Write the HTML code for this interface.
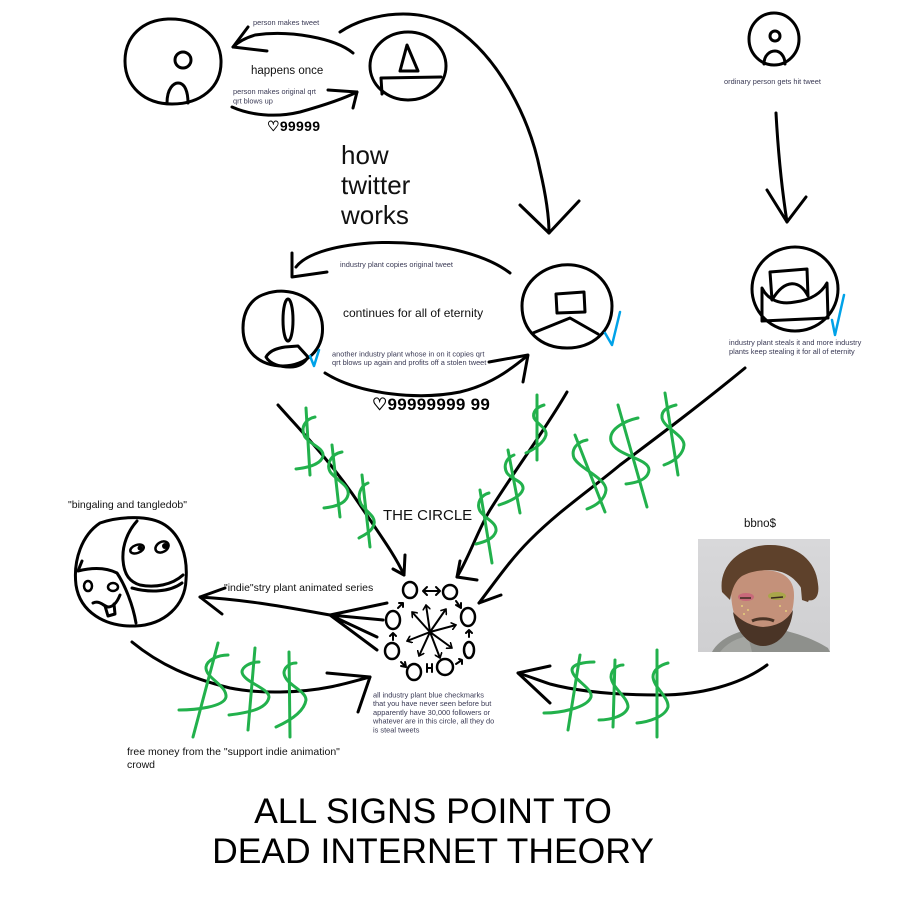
<!DOCTYPE html>
<html><head><meta charset="utf-8"><style>
html,body{margin:0;padding:0;background:#fff;}
svg{display:block;}
text{font-family:"Liberation Sans",Arial,sans-serif;}
.s{fill:#3a3a55;font-size:7.4px;}
</style></head><body>
<svg width="900" height="908" viewBox="0 0 900 908" xmlns="http://www.w3.org/2000/svg">
<defs>
<marker id="ah" markerWidth="6" markerHeight="8" refX="5" refY="4" orient="auto" markerUnits="userSpaceOnUse">
<path d="M0,0 L5,4 L0,8" fill="none" stroke="#000" stroke-width="1.6"/>
</marker>
<linearGradient id="bg" x1="0" y1="0" x2="0" y2="1"><stop offset="0" stop-color="#d8d8da"/><stop offset="1" stop-color="#cfcfd1"/></linearGradient>
</defs>
<rect width="900" height="908" fill="#fff"/>
<g fill="none" stroke="#000" stroke-width="3" stroke-linecap="round" stroke-linejoin="round">
<!-- top-left person -->
<path d="M168,19 C198,18 220,36 221,60 C222,88 200,104 172,104 C144,104 125,86 125,61 C125,36 143,20 168,19"/>
<circle cx="183" cy="60" r="8"/>
<path d="M167,103 C167,88 174,83 178,83 C185,83 188,92 188,103"/>
<!-- top-middle -->
<ellipse cx="408" cy="66" rx="38" ry="34"/>
<path d="M407,45 L400,71 L418,71 Z"/>
<path d="M382,94 L381,78 L441,77"/>
<!-- arrows top -->
<path d="M353,53 C335,38 290,30 255,35 C245,38 238,42 233,47"/>
<path d="M248,27 L233,47 L267,51"/>
<path d="M232,107 C250,115 275,118 300,112 C325,105 345,98 357,92"/>
<path d="M328,90 L357,92 L353,108"/>
<!-- big arc -->
<path d="M340,32 C370,12 420,6 455,28 C500,58 530,120 540,170 C547,200 549,220 549,233"/>
<path d="M520,205 L549,233 L579,201"/>
<!-- left-middle -->
<path d="M265,294 C290,285 318,298 322,322 C326,350 305,366 283,366 C258,366 243,350 243,328 C243,310 252,298 265,294"/>
<ellipse cx="288" cy="320" rx="5" ry="21"/>
<path d="M266,357 C270,350 278,348 285,347 L298,346 L308,357 C304,364 298,367 290,367 C280,367 270,364 266,357 Z"/>
<!-- right-middle -->
<path d="M562,265 C590,262 612,282 612,306 C612,332 592,348 567,348 C540,348 522,330 522,306 C522,284 540,268 562,265"/>
<path d="M556,294 L584,292 L585,312 L557,313 Z"/>
<path d="M533,333 L570,318 L598,334"/>
<!-- middle arrows -->
<path d="M510,273 C480,250 420,240 370,243 C330,246 305,255 296,267"/>
<path d="M292,253 L292,277 L327,272"/>
<path d="M325,373 C360,395 420,400 460,392 C490,385 510,370 527,356"/>
<path d="M489,362 L528,355 L523,382"/>
<!-- right top -->
<ellipse cx="774" cy="39" rx="25" ry="26"/>
<circle cx="775" cy="36" r="5"/>
<path d="M764,64 C764,55 770,51 775,51 C780,51 785,56 785,64"/>
<path d="M776,113 C778,150 782,190 787,222"/>
<path d="M767,190 L787,222 L806,197"/>
<!-- right lower -->
<ellipse cx="795" cy="289" rx="43" ry="42"/>
<path d="M770,272 L807,269 L808,296 C800,280 785,278 772,300 Z"/>
<path d="M762,288 C768,300 780,305 795,302 C812,300 822,292 827,283 L828,318 L762,321 Z"/>
<!-- lines into circle -->
<path d="M278,405 C300,430 330,460 360,505 C380,535 395,555 404,575"/>
<path d="M405,555 L404,575 L393,569"/>
<path d="M567,392 C545,430 515,470 490,510 C478,530 470,555 457,577"/>
<path d="M460,561 L457,577 L477,580"/>
<path d="M745,368 C700,405 660,435 620,465 C590,490 560,510 530,540 C510,560 495,582 479,603"/>
<path d="M479,603 L501,595"/>
<!-- indie arrow -->
<path d="M387,603 L330,615 M383,620 L330,615 M377,637 L330,615 M377,650 L330,615"/>
<path d="M330,615 C290,608 250,600 200,597"/>
<path d="M225,588 L200,597 L222,614"/>
<!-- money arrow left -->
<path d="M132,642 C160,665 190,678 230,688 C260,694 300,693 330,687 C345,684 358,680 370,677"/>
<path d="M327,673 L370,677 L358,712"/>
<!-- money arrow right -->
<path d="M767,665 C740,685 700,695 660,695 C620,695 580,692 550,684 C538,680 528,676 518,673"/>
<path d="M550,666 L518,673 L550,703"/>
<!-- bingaling -->
<path d="M100,523 C120,516 150,515 165,525 C180,535 188,555 186,580 C185,605 165,625 135,626 C105,627 80,612 76,585 C73,560 82,535 100,523 Z"/>
<path d="M137,521 C128,531 122,545 123,560 C124,575 130,582 140,585 C155,588 172,585 183,575"/>
<path d="M132,588 C150,593 170,592 182,583"/>
<path d="M82,561 L78,571 C90,568 105,567 117,573 C125,585 133,605 136,623"/>
<path d="M93,603 C100,600 103,606 108,607 C114,607 118,600 120,595"/>
<path d="M105,606 L108,616 L115,614 L114,604"/>
</g>
<!-- eyes -->
<g stroke="#000" stroke-width="2.5" fill="none">
<ellipse cx="137" cy="549" rx="7" ry="4" transform="rotate(-20 137 549)"/>
<ellipse cx="162" cy="547" rx="7" ry="5" transform="rotate(-30 162 547)"/>
<ellipse cx="88" cy="586" rx="4" ry="5"/>
<ellipse cx="113" cy="587" rx="5" ry="4"/>
</g>
<circle cx="140" cy="548" r="2.5" fill="#000"/>
<circle cx="165" cy="546" r="3" fill="#000"/>
<!-- blue checks -->
<g fill="none" stroke="#00a2e8" stroke-width="2.5" stroke-linecap="round" stroke-linejoin="round">
<path d="M310,356 L314,366 L319,350"/>
<path d="M605,333 L612,345 L620,312"/>
<path d="M832,320 L835,335 L844,295"/>
</g>
<!-- circle cluster -->
<g fill="none" stroke="#000" stroke-width="2.5" stroke-linecap="round" stroke-linejoin="round">
<ellipse cx="410" cy="590" rx="7" ry="8"/>
<ellipse cx="450" cy="592" rx="7" ry="7"/>
<ellipse cx="468" cy="617" rx="7" ry="9"/>
<ellipse cx="469" cy="650" rx="5" ry="8"/>
<ellipse cx="445" cy="667" rx="8" ry="8"/>
<ellipse cx="414" cy="672" rx="7" ry="8"/>
<ellipse cx="392" cy="651" rx="7" ry="8"/>
<ellipse cx="393" cy="620" rx="7" ry="9"/>
</g>
<g fill="none" stroke="#000" stroke-width="2" stroke-linecap="round" stroke-linejoin="round">
<path d="M423,591 L440,591 M427,587 L423,591 L427,595 M436,587 L440,591 L436,595"/>
<path d="M456,601 L461,608 M456,605 L461,608 L461,603"/>
<path d="M469,630 L469,637 M466,633 L469,630 L472,633"/>
<path d="M462,660 L456,664 M459,659 L462,660 L462,664"/>
<path d="M427,668 L432,668 M427,664 L427,672 M432,664 L432,672"/>
<path d="M401,662 L406,667 M401,666 L406,667 L405,662"/>
<path d="M393,633 L393,640 M390,636 L393,633 L396,636"/>
<path d="M398,608 L403,603 M399,603 L403,603 L403,607"/>
</g>
<g stroke="#000" stroke-width="2" marker-end="url(#ah)">
<line x1="430" y1="632" x2="412" y2="612"/>
<line x1="430" y1="632" x2="426" y2="605"/>
<line x1="430" y1="632" x2="446" y2="609"/>
<line x1="430" y1="632" x2="456" y2="625"/>
<line x1="430" y1="632" x2="452" y2="648"/>
<line x1="430" y1="632" x2="440" y2="658"/>
<line x1="430" y1="632" x2="419" y2="656"/>
<line x1="430" y1="632" x2="407" y2="641"/>
</g>
<!-- green dollars -->
<g fill="none" stroke="#22b14c" stroke-width="3" stroke-linecap="round" stroke-linejoin="round">
<path d="M306,408 L310,475"/><path d="M315,417 C305,419 300,428 305,437 C311,445 324,448 323,456 C321,465 305,468 296,469"/>
<path d="M332,445 L340,517"/><path d="M342,452 C331,454 325,465 331,473 C338,481 350,486 348,495 C346,504 333,507 324,508"/>
<path d="M362,475 L370,547"/><path d="M368,483 C360,486 357,496 361,504 C366,512 376,516 374,524 C372,532 364,535 359,538"/>
<path d="M480,490 L492,563"/><path d="M489,493 C481,495 476,503 480,511 C485,519 497,522 496,531 C494,539 484,542 476,544"/>
<path d="M508,450 L520,513"/><path d="M514,455 C506,458 503,466 507,473 C512,480 524,481 523,489 C521,497 508,502 499,505"/>
<path d="M537,395 L537,460"/><path d="M544,405 C537,407 532,412 534,418 C538,425 547,428 546,435 C544,443 533,450 526,453"/>
<path d="M575,435 L605,512"/><path d="M587,440 C576,442 571,450 574,458 C580,469 606,478 606,490 C605,500 595,506 587,509"/>
<path d="M618,405 L647,507"/><path d="M638,418 C628,420 608,428 611,441 C615,456 649,458 649,470 C648,480 635,483 626,484"/>
<path d="M665,393 L678,475"/><path d="M676,405 C668,407 661,410 662,418 C664,428 684,435 684,445 C683,456 672,462 664,465"/>
<path d="M218,643 L193,737"/><path d="M228,655 C218,655 207,660 206,667 C205,678 227,685 226,697 C224,707 195,710 179,710"/>
<path d="M255,648 L248,730"/><path d="M259,662 C250,662 242,667 242,672 C243,682 269,688 269,697 C267,710 245,713 229,715"/>
<path d="M289,652 L290,737"/><path d="M296,663 C289,663 284,668 284,673 C285,685 306,690 306,700 C304,713 287,722 276,727"/>
<path d="M580,655 L568,730"/><path d="M594,662 C585,662 572,664 572,670 C573,680 593,688 591,697 C587,708 560,713 544,713"/>
<path d="M615,660 L613,727"/><path d="M623,665 C617,665 611,670 611,677 C612,688 628,697 628,707 C626,716 610,720 599,720"/>
<path d="M657,650 L657,737"/><path d="M668,663 C660,665 653,670 653,677 C654,688 669,697 668,707 C665,717 648,722 637,723"/>
</g>
<!-- photo -->
<g>
<rect x="698" y="539" width="132" height="113" fill="url(#bg)"/>
<path d="M712,652 C718,640 735,632 748,630 L782,630 C800,634 815,640 828,648 L830,652 Z" fill="#8e908c"/>
<path d="M720,652 C728,642 738,638 748,636 L752,652 Z" fill="#a3a5a1"/>
<path d="M750,622 L776,622 L778,640 C770,646 756,646 748,640 Z" fill="#b4866c"/>
<path d="M731,590 C731,575 745,570 762,570 C782,570 794,578 794,595 C794,618 782,640 762,642 C744,642 731,620 731,590 Z" fill="#c4917a"/>
<path d="M733,612 C736,633 750,646 763,646 C778,646 791,632 793,610 C786,622 776,626 763,627 C750,626 740,620 733,612 Z" fill="#4a3426"/>
<path d="M752,621 C758,618 768,618 774,621" stroke="#4a3426" stroke-width="3" fill="none"/>
<path d="M722,592 C718,566 740,546 768,545 C796,544 816,560 818,584 C820,597 814,602 808,600 C802,588 796,578 784,573 C772,568 752,570 742,576 C736,580 732,588 730,600 Z" fill="#5e412b"/>
<path d="M800,578 C808,585 812,595 808,602 L802,600 Z" fill="#5e412b"/>
<ellipse cx="746" cy="597" rx="8" ry="4" fill="#c8697a"/>
<ellipse cx="777" cy="596" rx="9" ry="4" fill="#a9a64a"/>
<path d="M740,598 L751,598 M771,598 L783,597" stroke="#3a2a20" stroke-width="1.5"/>
<g fill="#e6d07a"><circle cx="742" cy="606" r="1"/><circle cx="748" cy="610" r="1"/><circle cx="780" cy="606" r="1"/><circle cx="786" cy="611" r="1"/><circle cx="744" cy="614" r="1"/></g>
</g>
<!-- text -->
<text class="s" x="253" y="25">person makes tweet</text>
<text x="251" y="74" font-size="11.5" fill="#111">happens once</text>
<text class="s" x="233" y="94">person makes original qrt</text>
<text class="s" x="233" y="103.5">qrt blows up</text>
<text x="267" y="131" font-size="14" font-weight="bold" fill="#000" font-family="DejaVu Sans, sans-serif" letter-spacing="0.3">♡99999</text>
<text x="341" y="164" font-size="26" fill="#111">how</text>
<text x="341" y="194" font-size="26" fill="#111">twitter</text>
<text x="341" y="224" font-size="26" fill="#111">works</text>
<text class="s" x="340" y="267">industry plant copies original tweet</text>
<text x="343" y="317" font-size="12" fill="#111">continues for all of eternity</text>
<text class="s" x="332" y="356.5">another industry plant whose in on it copies qrt</text>
<text class="s" x="332" y="365">qrt blows up again and profits off a stolen tweet</text>
<text x="372" y="410" font-size="17" font-weight="bold" fill="#000" font-family="DejaVu Sans, sans-serif" letter-spacing="0.3">♡99999999 99</text>
<text class="s" x="724" y="84">ordinary person gets hit tweet</text>
<text class="s" x="729" y="345">industry plant steals it and more industry</text>
<text class="s" x="729" y="354">plants keep stealing it for all of eternity</text>
<text x="383" y="520" font-size="15" fill="#111">THE CIRCLE</text>
<text x="68" y="508" font-size="10.5" fill="#111">"bingaling and tangledob"</text>
<text x="224" y="591" font-size="10.5" fill="#111">"indie"stry plant animated series</text>
<text x="744" y="527" font-size="11.5" fill="#111">bbno$</text>
<text class="s" x="373" y="697.5">all industry plant blue checkmarks</text>
<text class="s" x="373" y="706.2">that you have never seen before but</text>
<text class="s" x="373" y="714.9">apparently have 30,000 followers or</text>
<text class="s" x="373" y="723.6">whatever are in this circle, all they do</text>
<text class="s" x="373" y="732.3">is steal tweets</text>
<text x="127" y="755" font-size="10.5" fill="#111">free money from the "support indie animation"</text>
<text x="127" y="768" font-size="10.5" fill="#111">crowd</text>
<text x="433" y="823" font-size="35.5" fill="#000" text-anchor="middle">ALL SIGNS POINT TO</text>
<text x="433" y="863" font-size="35.5" fill="#000" text-anchor="middle">DEAD INTERNET THEORY</text>
</svg>
</body></html>
